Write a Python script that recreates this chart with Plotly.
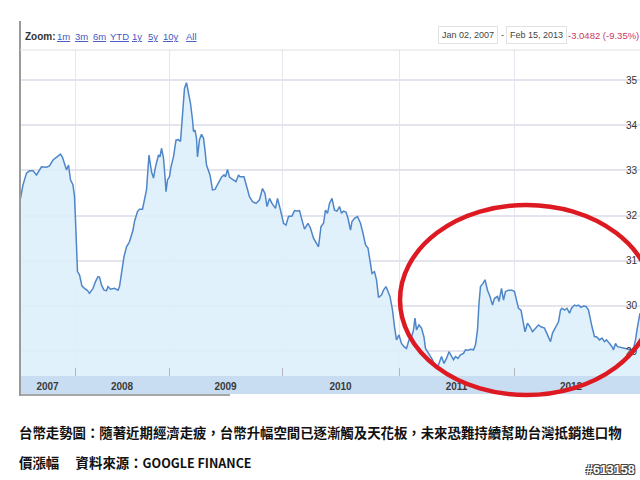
import plotly.graph_objects as go

# ---- data (chart session index vs TWD per USD) ----
pos = [0, 1, 6, 13, 19, 26, 33, 39, 43, 53, 59, 66, 73, 81, 85, 89, 93, 97, 101, 106,
       109, 111, 113, 115, 119, 124, 129, 135, 139, 146, 151, 156, 159, 163, 168, 173,
       176, 181, 189, 196, 199, 204, 208, 213, 219, 226, 229, 235, 239, 245, 250, 253,
       258, 263, 267, 271, 277, 280, 283, 287, 290, 292, 295, 299, 302, 307, 312, 317,
       321, 325, 329, 333, 337, 341, 345, 347, 350, 353, 355, 359, 363, 367, 370, 373,
       380, 385, 390, 397, 403, 408, 411, 415, 419, 425, 432, 437, 440, 448, 453, 459,
       465, 472, 479, 485, 490, 494, 499, 504, 511, 515, 521, 527, 532, 537, 544, 549,
       554, 559, 564, 569, 576, 581, 587, 593, 597, 602, 607, 611, 615, 619, 624, 629,
       634, 639, 643, 647, 652, 656, 661, 664, 669, 675, 681, 686, 691, 696, 701, 704,
       709, 713, 717, 723, 727, 732, 740, 745, 749, 753, 758, 763, 768, 773, 778, 783,
       787, 790, 793, 798, 803, 808, 811, 816, 820, 825, 829, 835, 839, 843, 848, 853,
       858, 861, 867, 871, 876, 881, 887, 891, 896, 901, 907, 911, 915, 918, 921, 926,
       930, 935, 940, 945, 949, 955, 958, 963, 967, 971, 977, 984, 989, 993, 997, 1002,
       1007, 1010, 1015, 1020, 1025, 1031, 1037, 1042, 1049, 1055, 1061, 1065, 1072,
       1077, 1081, 1084, 1089, 1094, 1099, 1103, 1109, 1113, 1117, 1122, 1127, 1132,
       1137, 1140, 1144, 1149, 1153, 1159, 1164, 1169, 1173, 1179, 1184, 1187, 1191,
       1195, 1202, 1209, 1215, 1222, 1227, 1231, 1234, 1237, 1240]
rate = [32.35, 32.38, 32.68, 32.94, 32.99, 32.99, 32.90, 33.01, 33.08, 33.07, 33.10,
        33.23, 33.29, 33.36, 33.29, 33.16, 33.01, 33.12, 32.79, 32.68, 32.42, 31.90,
        31.24, 30.76, 30.69, 30.44, 30.39, 30.34, 30.28, 30.39, 30.54, 30.65, 30.64,
        30.46, 30.35, 30.34, 30.43, 30.37, 30.39, 30.35, 30.43, 30.80, 31.09, 31.31,
        31.42, 31.68, 31.87, 32.09, 32.14, 32.14, 32.42, 32.57, 33.34, 32.97, 32.83,
        33.08, 33.34, 33.30, 33.49, 33.27, 32.86, 32.53, 32.79, 32.86, 33.08, 33.30,
        33.67, 33.68, 33.64, 34.34, 34.82, 34.94, 34.71, 34.48, 34.12, 33.86, 33.89,
        33.71, 33.30, 33.68, 33.80, 33.71, 33.45, 33.12, 32.90, 32.57, 32.58, 32.71,
        32.85, 32.90, 32.86, 33.02, 32.85, 32.80, 32.75, 32.90, 32.86, 32.86, 32.68,
        32.42, 32.31, 32.27, 32.35, 32.60, 32.49, 32.20, 32.38, 32.27, 32.16, 32.38,
        32.12, 31.83, 31.79, 31.98, 31.99, 32.11, 32.10, 32.11, 31.90, 31.70, 31.83,
        31.72, 31.50, 31.37, 31.31, 31.76, 31.83, 32.12, 32.05, 32.27, 32.38, 32.12,
        32.10, 32.20, 32.05, 32.10, 32.08, 31.94, 31.68, 31.87, 31.94, 31.98, 31.83,
        31.61, 31.35, 31.28, 30.94, 30.72, 30.76, 30.58, 30.19, 30.24, 30.35, 30.43,
        30.21, 29.91, 29.54, 29.25, 29.36, 29.17, 29.10, 29.06, 29.25, 29.31, 29.47,
        29.73, 29.47, 29.58, 29.51, 29.31, 29.06, 28.97, 28.88, 28.81, 28.69, 28.64,
        28.76, 28.88, 28.73, 28.84, 28.99, 28.92, 28.81, 28.88, 28.84, 28.92, 28.95,
        29.03, 29.02, 29.04, 29.03, 29.14, 29.47, 30.06, 30.43, 30.50, 30.58, 30.35,
        30.21, 30.02, 30.17, 30.21, 30.10, 30.39, 30.13, 30.32, 30.35, 30.35, 30.32,
        30.13, 29.95, 29.91, 29.58, 29.43, 29.62, 29.54, 29.43, 29.51, 29.58, 29.54,
        29.51, 29.36, 29.21, 29.40, 29.54, 29.65, 29.91, 29.95, 29.91, 29.95, 29.84,
        29.95, 30.02, 30.00, 30.02, 29.97, 30.00, 29.99, 29.91, 29.73, 29.54, 29.32,
        29.32, 29.25, 29.29, 29.21, 29.25, 29.17, 29.10, 29.03, 29.17, 29.10, 29.08,
        29.06, 29.04, 29.03, 29.06, 29.25, 29.47, 29.70, 29.84]

year_starts = [0, 110, 298, 524, 758, 988, 1216]   # session index where each year begins
year_labels = ["2007", "2008", "2009", "2010", "2011", "2012"]
y_ticks = [29, 30, 31, 32, 33, 34, 35]

label_pos = [(a + b) / 2 for a, b in zip(year_starts[:-1], year_starts[1:])]

W, H = 640, 480
L, R, T, B = 20, 0, 50, 104
PW, PH = W - L - R, H - T - B


def px(x):
    return (x - L) / PW


def py(y):
    return (H - B - y) / PH


fig = go.Figure()
fig.add_trace(go.Scatter(
    x=pos, y=rate, mode="lines", fill="tozeroy",
    line=dict(color="#4f86c8", width=1.5),
    fillcolor="rgba(220,238,252,0.85)", hoverinfo="skip", showlegend=False,
))

shapes = [
    # navigator band
    dict(type="rect", xref="paper", yref="paper", x0=0, x1=1.01, y0=py(394), y1=0,
         fillcolor="#c8dcf2", line=dict(width=0), layer="below"),
    dict(type="line", xref="paper", yref="paper", x0=0, x1=px(230), y0=py(395), y1=py(395),
         line=dict(color="#8a8a8a", width=1.5)),
    # left border
    dict(type="line", xref="paper", yref="paper", x0=px(20), x1=px(20), y0=py(396), y1=py(21),
         line=dict(color="#9a9a9a", width=2)),
    # top border
    dict(type="line", xref="paper", yref="paper", x0=0, x1=1, y0=1, y1=1,
         line=dict(color="#e0e0e0", width=1)),
    # red ellipse
    dict(type="circle", xref="paper", yref="paper", x0=px(400), x1=px(653),
         y0=py(395), y1=py(205), line=dict(color="#dd1a22", width=4.5)),
]

hdr = dict(family="Liberation Sans, Arial, sans-serif", size=9.5)
ann = []
ann.append(dict(x=px(23), y=py(36), text="<b>Zoom:</b>", xanchor="left",
                font=dict(hdr, size=10, color="#333333")))
for t, cx in [("1m", 63.5), ("3m", 81.5), ("6m", 99.5), ("YTD", 119), ("1y", 137),
              ("5y", 152.5), ("10y", 171), ("All", 191)]:
    ann.append(dict(x=px(cx), y=py(36), text=t, xanchor="center",
                    font=dict(hdr, color="#4659c2", lineposition="under")))
ann.append(dict(x=px(468), y=py(35), text="Jan 02, 2007", xanchor="center",
                font=dict(hdr, size=9, color="#444444"), bordercolor="#e2e2e2",
                borderwidth=1, borderpad=3, bgcolor="white"))
ann.append(dict(x=px(502), y=py(35), text="-", xanchor="center",
                font=dict(hdr, size=9, color="#444444")))
ann.append(dict(x=px(536), y=py(35), text="Feb 15, 2013", xanchor="center",
                font=dict(hdr, size=9, color="#444444"), bordercolor="#e2e2e2",
                borderwidth=1, borderpad=3, bgcolor="white"))
ann.append(dict(x=px(566), y=py(35), text="-3.0482 (-9.35%)", xanchor="left",
                font=dict(hdr, size=9.5, color="#cc3a5e")))

cjk = dict(family="Noto Sans CJK TC, sans-serif", size=13.4, color="#111111")
ann.append(dict(x=px(17), y=py(432),
                text="<b>台幣走勢圖：隨著近期經濟走疲，台幣升幅空間已逐漸觸及天花板，未來恐難持續幫助台灣抵銷進口物</b>",
                xanchor="left", font=cjk))
ann.append(dict(x=px(17), y=py(462),
                text="<b>價漲幅　 資料來源：<span style='font-size:12.5px'>GOOGLE FINANCE</span></b>",
                xanchor="left", font=cjk))
ann.append(dict(x=px(637), y=py(470), text="<b>#613158</b>", xanchor="right",
                font=dict(family="Liberation Sans, Arial, sans-serif", size=12.5, color="white",
                          shadow="-1px -1px 0 #444, 1px -1px 0 #444, -1px 1px 0 #444, 1px 1px 0 #444")))
for a in ann:
    a.update(xref="paper", yref="paper", showarrow=False, yanchor="middle")

fig.update_layout(
    width=W, height=H, margin=dict(l=L, r=R, t=T, b=B),
    paper_bgcolor="white", plot_bgcolor="white",
    shapes=shapes, annotations=ann, showlegend=False,
    xaxis=dict(
        range=[0, 1240], tickmode="array", tickvals=label_pos, ticktext=year_labels,
        showgrid=False, zeroline=False, showline=False, ticks="",
        ticklabelstandoff=3,
        tickfont=dict(family="Liberation Sans, Arial, sans-serif", size=10,
                      color="#3a3a3a", weight="bold"),
        minor=dict(tickmode="array", tickvals=year_starts, showgrid=True,
                   gridcolor="#e6e6ee", gridwidth=1, ticks="inside", ticklen=8,
                   tickcolor="#b4b4bc", tickwidth=1),
        fixedrange=True,
    ),
    yaxis=dict(
        range=[28.451, 35.664], tickmode="array", tickvals=y_ticks,
        side="right", ticklabelposition="inside", showgrid=True,
        gridcolor="#e4e4ee", gridwidth=1.6, zeroline=False, showline=False,
        tickfont=dict(family="Liberation Sans, Arial, sans-serif", size=10, color="#333333"),
        fixedrange=True,
    ),
)

fig.write_html("out.html", config={"displayModeBar": False},
               post_script="document.body.style.margin='0';document.body.style.overflow='hidden';")
